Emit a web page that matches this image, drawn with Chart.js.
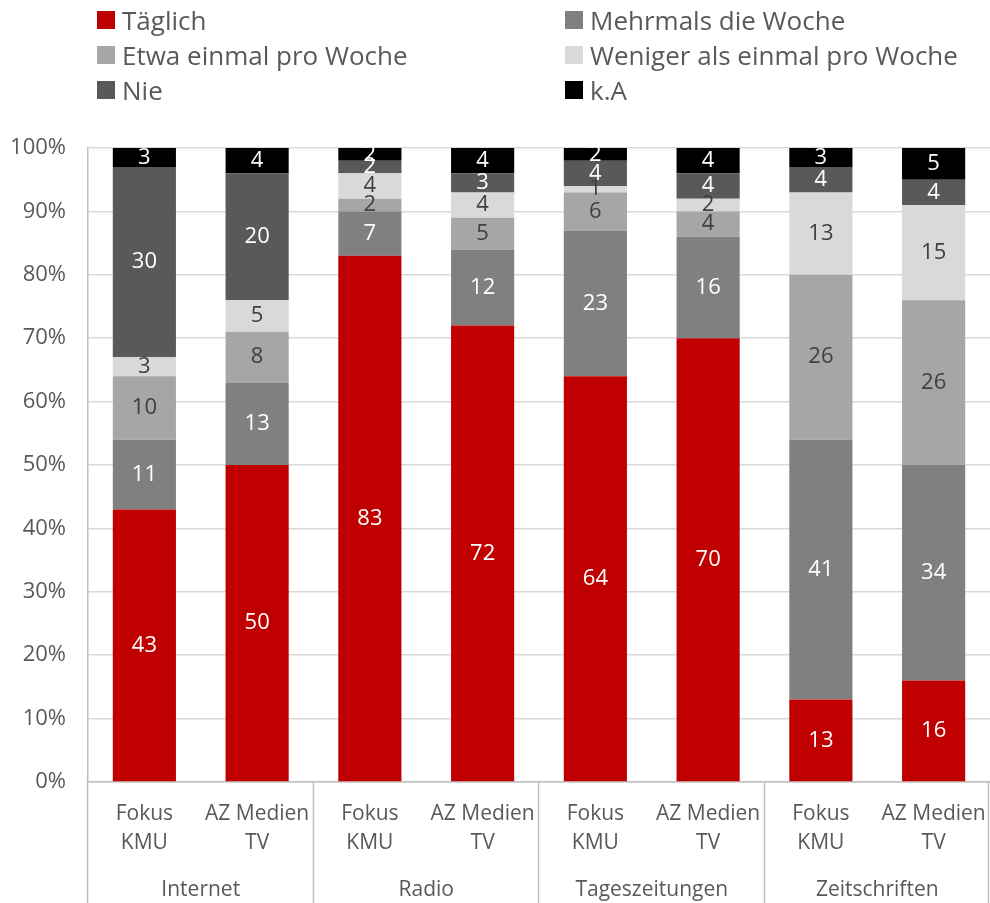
<!DOCTYPE html>
<html>
<head>
<meta charset="utf-8">
<script src="https://cdn.jsdelivr.net/npm/chart.js@4/dist/chart.umd.min.js"></script>
<style>
  html, body { margin: 0; padding: 0; background: #fff; }
  #wrap { position: relative; width: 990px; height: 903px; }
  #legend { position: absolute; left: 0; top: 0; width: 990px; height: 110px; font-family: "Open Sans", sans-serif; font-size: 26px; color: #595959; }
  .item { position: absolute; display: flex; align-items: center; white-space: nowrap; }
  .box { width: 18px; height: 18px; margin-right: 7px; }
</style>
</head>
<body>
<div id="wrap">
  <canvas id="usageChart" width="990" height="903"></canvas>
  <div id="legend"></div>
</div>
<script>
// categories (bars) and their groups
const barLabels = [["Fokus", "KMU"], ["AZ Medien", "TV"], ["Fokus", "KMU"], ["AZ Medien", "TV"],
                   ["Fokus", "KMU"], ["AZ Medien", "TV"], ["Fokus", "KMU"], ["AZ Medien", "TV"]];
const groupLabels = ["Internet", "Radio", "Tageszeitungen", "Zeitschriften"];

// series values in percent
const taeglich  = [43, 50, 83, 72, 64, 70, 13, 16];
const mehrmals  = [11, 13, 7, 12, 23, 16, 41, 34];
const etwa      = [10, 8, 2, 5, 6, 4, 26, 26];
const weniger   = [3, 5, 4, 4, 1, 2, 13, 15];
const nie       = [30, 20, 2, 3, 4, 4, 4, 4];
const keineAng  = [3, 4, 2, 4, 2, 4, 3, 5];

const seriesNames  = ["Täglich", "Mehrmals die Woche", "Etwa einmal pro Woche", "Weniger als einmal pro Woche", "Nie", "k.A"];
const seriesData   = [taeglich, mehrmals, etwa, weniger, nie, keineAng];
const seriesColors = ["#C00000", "#808080", "#A6A6A6", "#D9D9D9", "#595959", "#000000"];
const labelColors  = ["#FFFFFF", "#FFFFFF", "#404040", "#404040", "#FFFFFF", "#FFFFFF"];

const yTicks = [0, 10, 20, 30, 40, 50, 60, 70, 80, 90, 100];

// value labels in the middle of each segment
const segmentLabels = {
  id: "segmentLabels",
  afterDatasetsDraw(chart) {
    const ctx = chart.ctx;
    ctx.save();
    ctx.font = "22px 'Open Sans', sans-serif";
    ctx.textAlign = "center";
    ctx.textBaseline = "middle";
    chart.data.datasets.forEach((ds, di) => {
      const meta = chart.getDatasetMeta(di);
      ctx.fillStyle = labelColors[di];
      meta.data.forEach((bar, i) => {
        const p = bar.getProps(["x", "y", "base"], true);
        ctx.fillText(String(ds.data[i]), p.x, (p.y + p.base) / 2);
      });
    });
    ctx.restore();
  }
};

// vertical separators between the groups under the axis
const groupLines = {
  id: "groupLines",
  afterDraw(chart) {
    const xs = chart.scales.x;
    const ctx = chart.ctx;
    ctx.save();
    ctx.strokeStyle = "#BFBFBF";
    ctx.lineWidth = 1.5;
    for (let i = 0; i <= barLabels.length; i += 2) {
      const x = Math.min(Math.round(xs.getPixelForValue(i - 0.5)), chart.width - 1) - 0.5;
      ctx.beginPath();
      ctx.moveTo(x, chart.chartArea.bottom);
      ctx.lineTo(x, chart.height);
      ctx.stroke();
    }
    ctx.restore();
  }
};

const noSidePadding = scale => { scale.paddingLeft = 0; scale.paddingRight = 0; };

const usageChart = new Chart(document.querySelector("#usageChart"), {
  type: "bar",
  data: {
    labels: barLabels,
    datasets: seriesNames.map((name, i) => ({
      label: name,
      data: seriesData[i],
      backgroundColor: seriesColors[i],
      borderWidth: 0,
      barPercentage: 0.56,
      categoryPercentage: 1,
    })),
  },
  options: {
    responsive: false,
    animation: false,
    layout: { padding: { top: 148, right: 0, left: 0, bottom: 0 } },
    plugins: {
      legend: { display: false },
      tooltip: { enabled: false },
    },
    scales: {
      x: {
        stacked: true,
        weight: 0,
        grid: { drawOnChartArea: false, drawTicks: false },
        border: { display: true, color: "#BFBFBF", width: 1.5 },
        ticks: {
          color: "#595959",
          font: { family: "Open Sans", size: 21, lineHeight: 1.4 },
          padding: 17,
          maxRotation: 0,
          autoSkip: false,
        },
        afterFit(scale) { scale.height = 80; noSidePadding(scale); },
      },
      x2: {
        type: "category",
        position: "bottom",
        weight: 1,
        labels: groupLabels,
        offset: true,
        grid: { display: false },
        border: { display: false },
        ticks: {
          color: "#595959",
          font: { family: "Open Sans", size: 21 },
          padding: 7,
          maxRotation: 0,
        },
        afterFit(scale) { scale.height = 41; noSidePadding(scale); },
      },
      y: {
        stacked: true,
        min: 0,
        max: 100,
        afterBuildTicks(scale) { scale.ticks = yTicks.map(v => ({ value: v })); },
        grid: { color: "#D9D9D9", lineWidth: 1.5, drawTicks: false },
        border: { display: true, color: "#BFBFBF", width: 1.5 },
        ticks: {
          color: "#595959",
          font: { family: "Open Sans", size: 22 },
          padding: 22,
          callback: v => v + "%",
        },
        afterFit(scale) { scale.width = 88; },
      },
    },
  },
  plugins: [segmentLabels, groupLines],
});

// legend in two columns, built from the datasets
const legendEl = document.querySelector("#legend");
usageChart.data.datasets.forEach((ds, i) => {
  const item = document.createElement("div");
  item.className = "item";
  item.style.left = (i % 2 === 0 ? 97 : 565) + "px";
  item.style.top = (20 + Math.floor(i / 2) * 35 - 17) + "px";
  item.style.height = "34px";
  const box = document.createElement("span");
  box.className = "box";
  box.style.background = ds.backgroundColor;
  const txt = document.createElement("span");
  txt.textContent = ds.label;
  item.appendChild(box);
  item.appendChild(txt);
  legendEl.appendChild(item);
});
</script>
</body>
</html>
